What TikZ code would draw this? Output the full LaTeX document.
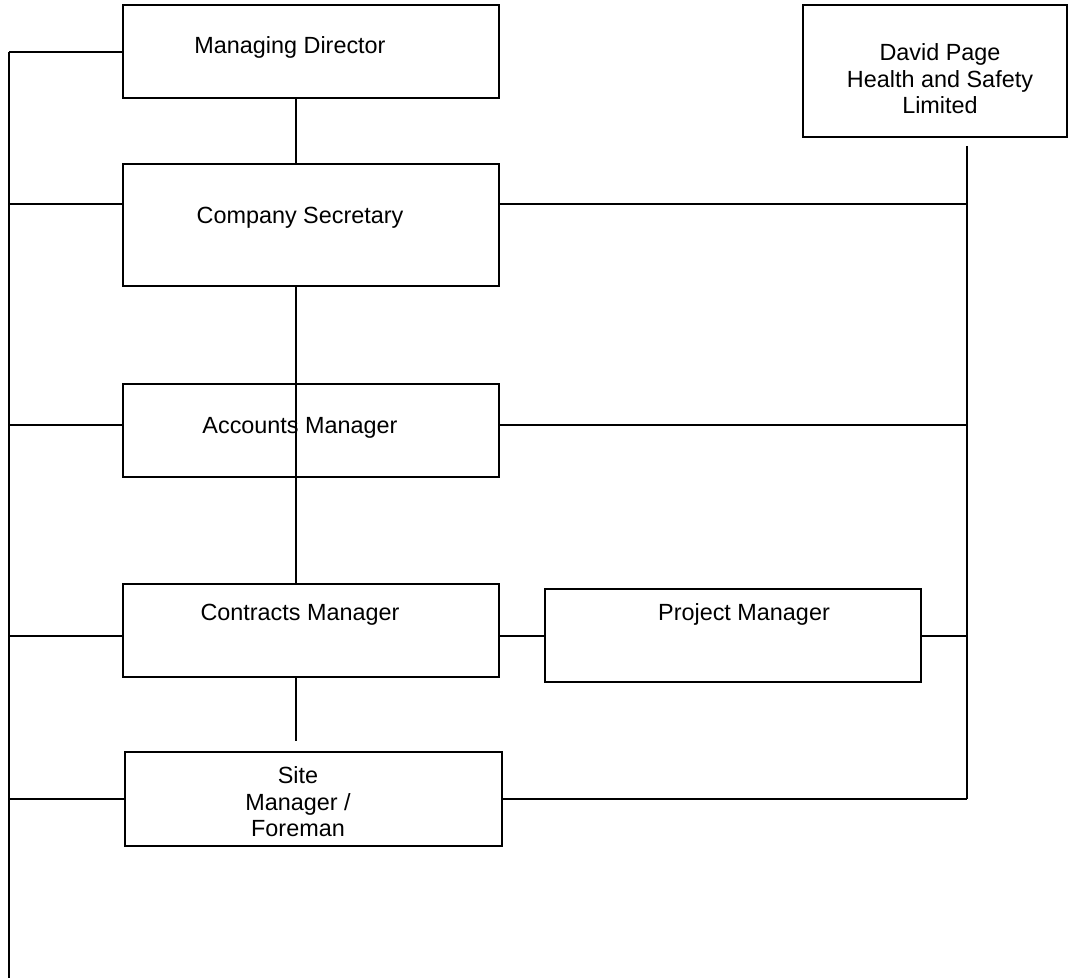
\documentclass[tikz,border=0pt]{standalone}
\usepackage{fontspec}
\setmainfont{Liberation Sans}
\usepackage{tikz}
\usetikzlibrary{calc}
\usetikzlibrary{positioning}

\begin{document}
\begin{tikzpicture}[x=1pt,y=-1pt,-,line width=1.1pt]
	\tikzstyle{box}=[draw=black, line width=1.5pt, fill=white, minimum width=376pt, minimum height=93pt, inner sep=0pt]
	\tikzstyle{txt}=[inner sep=0pt, align=center, text=black, font=\fontsize{23.4}{26.5}\selectfont]
	\fill[white] (0,0) rectangle (1074,978);
	\useasboundingbox (0,0) rectangle (1074,978);
		\node[box] (md) at (311,51.5){};
		\node[box, minimum height=122pt] (cs) at (311,225){};
		\node[box] (am) at (311,430.5){};
		\node[box] (cm) at (311,630.5){};
		\node[box] (pm) at (733,635.5){};
		\node[box, minimum width=377pt, minimum height=94pt] (sm) at (313.5,799){};
		\node[box, minimum width=264pt, minimum height=132pt] (dp) at (935,71){};

		\node[txt, anchor=base] (md-t) at (290,53) {Managing Director};
		\node[txt, anchor=base] (cs-t) at (300,223) {Company Secretary};
		\node[txt, anchor=base] (am-t) at (300,433) {Accounts Manager};
		\node[txt, anchor=base] (cm-t) at (300,620) {Contracts Manager};
		\node[txt, anchor=base] (pm-t) at (744,620) {Project Manager};
		\node[txt, anchor=north] (sm-t) at (298,766) {Site\\Manager /\\Foreman};
		\node[txt, anchor=north] (dp-t) at (940,43) {David Page\\Health and Safety\\Limited};

		\coordinate (vx) at (296,0);
		\coordinate (lb) at (9,978);
		\coordinate (rt) at ($(dp.south)+(32,8)$);
			\foreach \n/\y in {md/52,cs/204,am/425,cm/636,sm/799}{
				\coordinate (l-\n) at (9,\y);
				\draw (l-\n) -- (l-\n -| \n.west);
				}
			\foreach \n/\y in {cs/204,am/425,pm/636,sm/799}{
				\coordinate (r-\n) at (967,\y);
				\draw (r-\n) -- (r-\n -| \n.east);
				}
		\draw (l-md) -- (lb);
		\draw (rt) -- (r-sm);
		\draw (md.south -| vx) -- (cs.north -| vx);
		\draw (cs.south -| vx) -- (cm.north -| vx);
		\draw (cm.south -| vx) -- ($(sm.north -| vx)+(0,-10)$);
		\draw (r-pm -| cm.east) -- (r-pm -| pm.west);
\end{tikzpicture}
\end{document}
